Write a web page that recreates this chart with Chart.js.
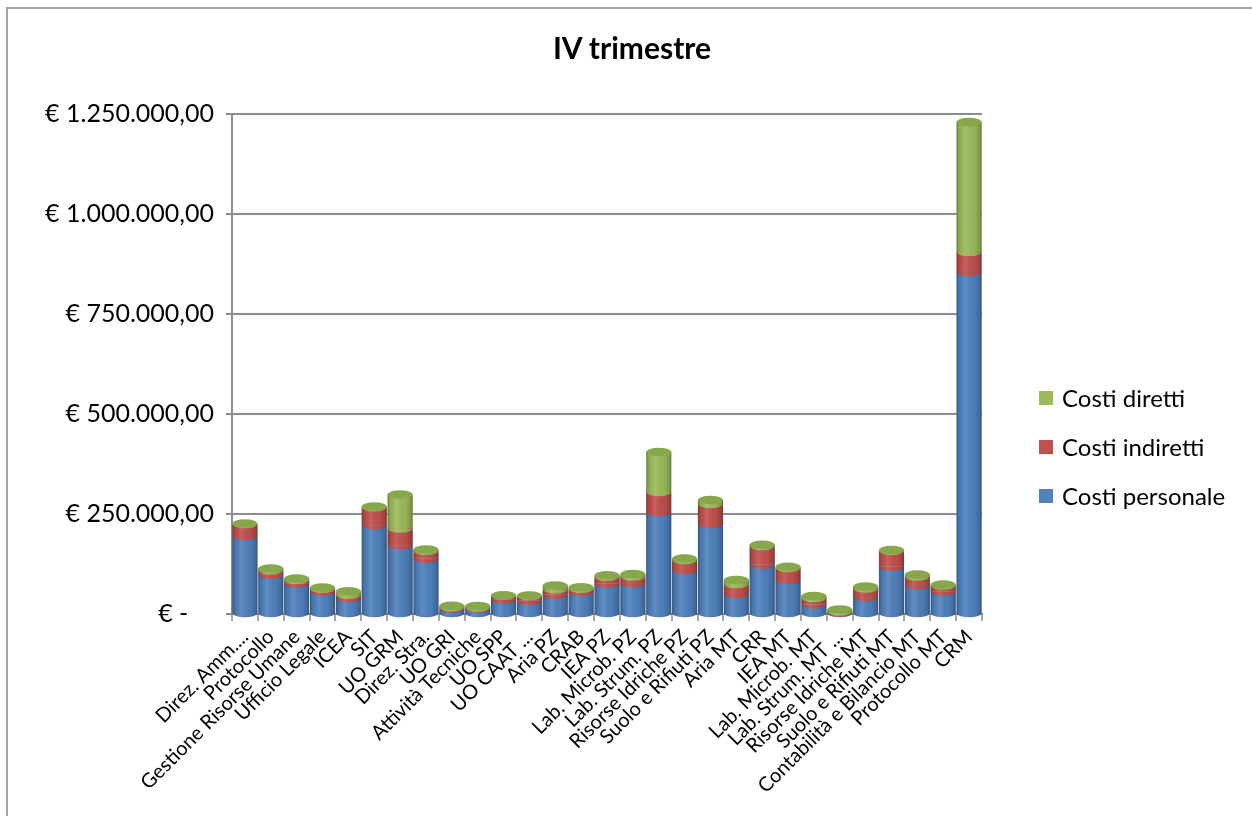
<!DOCTYPE html>
<html lang="it">
<head>
<meta charset="utf-8">
<title>IV trimestre</title>
<script src="https://cdn.jsdelivr.net/npm/chart.js@4/dist/chart.umd.min.js"></script>
<style>
  html, body { margin: 0; padding: 0; background: #ffffff; }
  #wrap { position: relative; width: 1252px; height: 816px; overflow: hidden; font-family: Lato, "Open Sans", sans-serif; }
  #frame { position: absolute; left: 6px; top: 7px; width: 1260px; height: 830px; border: 2px solid #a3a3a3; box-sizing: border-box; }
  #chart { position: absolute; left: 0; top: 0; }
  #title { position: absolute; left: 0; width: 1264px; top: 29px; text-align: center; font-weight: bold; font-size: 30px; line-height: 36px; color: #000; }
  #legend { position: absolute; left: 1039px; top: 373px; }
  .item { display: flex; align-items: center; height: 49px; font-size: 24px; color: #000; }
  .box { width: 14px; height: 14px; margin-right: 9px; }
</style>
</head>
<body>
<div id="wrap">
  <div id="frame"></div>
  <canvas id="chart" width="1252" height="816"></canvas>
  <div id="title">IV trimestre</div>
  <div id="legend"></div>
</div>
<script>
// Uffici / centri di costo
const categories = [
  'Direz. Amm....', 'Protocollo', 'Gestione Risorse Umane', 'Ufficio Legale', 'ICEA',
  'SIT', 'UO GRM', 'Direz. Stra.', 'UO GRI', 'Attività Tecniche',
  'UO SPP', 'UO CAAT ...', 'Aria PZ', 'CRAB', 'IEA PZ',
  'Lab. Microb. PZ', 'Lab. Strum. PZ', 'Risorse Idriche PZ', 'Suolo e Rifiuti PZ', 'Aria MT',
  'CRR', 'IEA MT', 'Lab. Microb. MT', 'Lab. Strum. MT ...', 'Risorse Idriche MT',
  'Suolo e Rifiuti MT', 'Contabilità e Bilancio MT', 'Protocollo MT', 'CRM'
];

// Importi in euro per voce di costo
const costiPersonale = [
  195000, 98000, 76000, 56000, 40000,
  222000, 172000, 138000, 14000, 14000,
  36000, 33000, 48000, 55000, 76000,
  77000, 255000, 110000, 225000, 50000,
  123000, 85000, 24000, 3000, 42000,
  118000, 72000, 56000, 855000
];
const costiIndiretti = [
  30000, 12000, 9000, 7000, 8000,
  45000, 42000, 20000, 3000, 2500,
  10000, 12000, 14000, 8000, 17000,
  17000, 50000, 25000, 50000, 25000,
  47000, 30000, 16000, 3000, 22000,
  40000, 22000, 15000, 50000
];
const costiDiretti = [
  1500, 4000, 4000, 3500, 9000,
  2000, 85000, 3000, 3500, 3500,
  1000, 1000, 9000, 4000, 4000,
  6000, 100000, 4000, 10000, 10000,
  3000, 3000, 5000, 5000, 5000,
  2000, 5000, 2500, 325000
];

const seriesNames = ['Costi personale', 'Costi indiretti', 'Costi diretti'];
const seriesColors = ['#4F81BD', '#C0504D', '#9BBB59'];
const capColors = ['#4a7ab3', '#b5463f', '#87a84a'];
const yTickValues = [0, 250000, 500000, 750000, 1000000, 1250000];

function euro(v) {
  if (v === 0) return '€ -    ';
  const s = Math.round(v).toString().replace(/\B(?=(\d{3})+(?!\d))/g, '.');
  return '€ ' + s + ',00';
}

// Legend (listed top to bottom in reverse stacking order)
const legendEl = document.getElementById('legend');
for (let i = seriesNames.length - 1; i >= 0; i--) {
  const row = document.createElement('div');
  row.className = 'item';
  const box = document.createElement('span');
  box.className = 'box';
  box.style.background = seriesColors[i];
  const txt = document.createElement('span');
  txt.textContent = seriesNames[i];
  row.appendChild(box);
  row.appendChild(txt);
  legendEl.appendChild(row);
}

// Gives the flat bars a cylindrical look: rounded base, curved joints, shading and a top cap
const cylinderPlugin = {
  id: 'cylinders',
  afterDatasetsDraw(chart) {
    const ctx = chart.ctx;
    const metas = chart.getSortedVisibleDatasetMetas();
    const n = chart.data.labels.length;
    ctx.save();
    for (let i = 0; i < n; i++) {
      const segs = [];
      metas.forEach(m => {
        const el = m.data[i];
        if (el && Math.abs(el.base - el.y) > 0.01) segs.push({ el, idx: m.index });
      });
      if (!segs.length) continue;
      const x = segs[0].el.x;
      const rx = segs[0].el.width / 2;
      const ry = Math.max(3, rx * 0.34);
      const bottom = segs[0].el.base;
      const top = segs[segs.length - 1].el.y;

      // rounded base and curved joints (front arc takes the colour of the upper part)
      segs.forEach(s => {
        ctx.beginPath();
        ctx.ellipse(x, s.el.base, rx, ry, 0, 0, Math.PI);
        ctx.closePath();
        ctx.fillStyle = seriesColors[s.idx];
        ctx.fill();
      });

      // side shading
      const g = ctx.createLinearGradient(x - rx, 0, x + rx, 0);
      g.addColorStop(0, 'rgba(0,0,0,0.30)');
      g.addColorStop(0.12, 'rgba(0,0,0,0.08)');
      g.addColorStop(0.35, 'rgba(255,255,255,0.10)');
      g.addColorStop(0.7, 'rgba(0,0,0,0.03)');
      g.addColorStop(0.92, 'rgba(0,0,0,0.18)');
      g.addColorStop(1, 'rgba(0,0,0,0.38)');
      ctx.beginPath();
      ctx.moveTo(x - rx, top);
      ctx.lineTo(x + rx, top);
      ctx.lineTo(x + rx, bottom);
      ctx.ellipse(x, bottom, rx, ry, 0, 0, Math.PI);
      ctx.closePath();
      ctx.fillStyle = g;
      ctx.fill();

      // top cap
      const last = segs[segs.length - 1];
      ctx.beginPath();
      ctx.ellipse(x, top, rx, ry, 0, 0, Math.PI * 2);
      ctx.fillStyle = capColors[last.idx];
      ctx.fill();
    }
    ctx.restore();
  }
};

const datasets = [costiPersonale, costiIndiretti, costiDiretti].map((vals, k) => ({
  label: seriesNames[k],
  data: vals,
  backgroundColor: seriesColors[k],
  borderWidth: 0,
  categoryPercentage: 1.0,
  barPercentage: 0.97
}));

new Chart(document.getElementById('chart'), {
  type: 'bar',
  data: { labels: categories, datasets },
  plugins: [cylinderPlugin],
  options: {
    responsive: false,
    animation: false,
    layout: { padding: { top: 114, right: 270, left: 0, bottom: 0 } },
    plugins: { legend: { display: false }, tooltip: { enabled: false }, title: { display: false } },
    scales: {
      x: {
        stacked: true,
        offset: true,
        grid: { display: true, drawOnChartArea: false, offset: true, color: '#a6a6a6', lineWidth: 2, tickLength: 7 },
        border: { display: true, color: '#8c8c8c', width: 2 },
        ticks: {
          autoSkip: false, maxRotation: 45, minRotation: 45,
          color: '#000', padding: 4,
          font: { family: 'Lato, "Open Sans", sans-serif', size: 20 }
        },
        afterFit(scale) { scale.height = 816 - 614; }
      },
      y: {
        stacked: true,
        min: 0, max: 1250000,
        afterBuildTicks(scale) { scale.ticks = yTickValues.map(v => ({ value: v })); },
        grid: { color: '#8c8c8c', lineWidth: 2, tickLength: 6 },
        border: { display: true, color: '#8c8c8c', width: 2 },
        ticks: {
          color: '#000', padding: 12,
          font: { family: 'Lato, "Open Sans", sans-serif', size: 25 },
          callback: v => euro(v)
        },
        afterFit(scale) { scale.width = 232; }
      }
    }
  }
});
</script>
</body>
</html>
